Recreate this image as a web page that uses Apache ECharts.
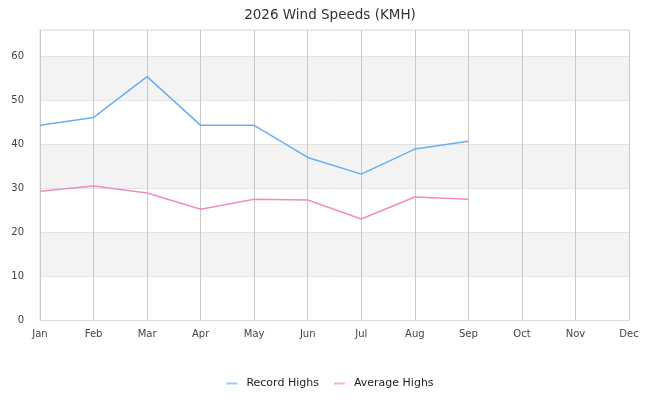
<!DOCTYPE html>
<html>
<head>
<meta charset="utf-8">
<script src="https://cdn.jsdelivr.net/npm/echarts@6/dist/echarts.min.js"></script>
<style>
  html, body { margin: 0; padding: 0; background: #fff; }
  #chart { width: 660px; height: 400px; }
</style>
</head>
<body>
<div id="chart"></div>
<script>
// months on the x axis
var months = ['Jan','Feb','Mar','Apr','May','Jun','Jul','Aug','Sep','Oct','Nov','Dec'];
// wind speeds (km/h)
var recordHighs = [44.3, 46.1, 55.4, 44.3, 44.3, 37.0, 33.2, 38.9, 40.7];
var averageHighs = [29.3, 30.5, 28.9, 25.2, 27.5, 27.3, 23.0, 28.0, 27.5];

var font = 'DejaVu Sans';

var myChart = echarts.init(document.getElementById('chart'));
myChart.setOption({
    animation: false,
    textStyle: { fontFamily: font },
    title: {
        text: '2026 Wind Speeds (KMH)',
        left: 'center',
        top: 3,
        textStyle: { fontFamily: font, fontSize: 13.5, fontWeight: 'normal', color: '#333' }
    },
    grid: {
        left: 40,
        right: 31,
        top: 30,
        bottom: 80,
        show: true,
        borderColor: '#dcdcdc',
        borderWidth: 1
    },
    legend: {
        bottom: 6,
        left: 'center',
        itemWidth: 11,
        itemHeight: 2,
        itemGap: 15,
        icon: 'rect',
        textStyle: { fontFamily: font, fontSize: 11, color: '#222', padding: [0, 0, 0, 4] },
        data: [
            { name: 'Record Highs', itemStyle: { color: '#9ccaf5' } },
            { name: 'Average Highs', itemStyle: { color: '#f5b0d6' } }
        ]
    },
    xAxis: {
        type: 'category',
        data: months,
        boundaryGap: false,
        axisLine: { lineStyle: { color: '#dcdcdc' } },
        axisTick: { show: false },
        axisLabel: { color: '#444', fontSize: 10, margin: 9, fontFamily: font },
        splitLine: { show: true, lineStyle: { color: '#c8c8c8' } }
    },
    yAxis: {
        type: 'value',
        min: 0,
        max: 66,
        interval: 10,
        axisLine: { show: false },
        axisTick: { show: false },
        axisLabel: {
            color: '#444',
            fontSize: 10,
            margin: 16,
            fontFamily: font,
            formatter: function (v) { return v % 10 === 0 ? v : ''; }
        },
        splitLine: { lineStyle: { color: '#e2e2e2' } },
        splitArea: { show: true, areaStyle: { color: ['#ffffff', '#f3f3f3'] } }
    },
    series: [
        {
            name: 'Record Highs',
            type: 'line',
            data: recordHighs,
            showSymbol: false,
            symbol: 'none',
            lineStyle: { color: '#6aaef2', width: 1.5 },
            itemStyle: { color: '#6aaef2' }
        },
        {
            name: 'Average Highs',
            type: 'line',
            data: averageHighs,
            showSymbol: false,
            symbol: 'none',
            lineStyle: { color: '#f08cc4', width: 1.5 },
            itemStyle: { color: '#f08cc4' }
        }
    ]
});
</script>
</body>
</html>
